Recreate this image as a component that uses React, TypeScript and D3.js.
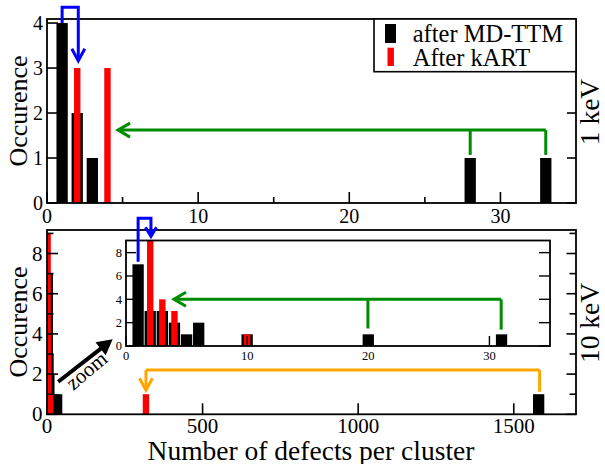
import React from 'react';
import * as d3 from 'd3';

const W = 605;
const H = 464;

// ---- 1 keV panel data ----
const md1X = [1, 2, 3, 28, 33];
const md1N = [4, 2, 1, 1, 1];
const kart1X = [2, 4];
const kart1N = [3, 3];

// ---- 10 keV panel data ----
const md10X = [1, 2, 3, 4, 5, 6, 10, 20, 31, 1580];
const md10N = [7, 3, 3, 2, 1, 2, 1, 1, 1, 1];
const kart10X = [2, 3, 4, 10, 318];
const kart10N = [9, 4, 3, 1, 1];

// ---- ticks ----
const topXTicks = [0, 10, 20, 30];
const topXMinor = [5, 15, 25];
const topYTicks = [0, 1, 2, 3, 4];
const botXTicks = [0, 500, 1000, 1500];
const botYTicks = [0, 2, 4, 6, 8];
const botYMinor = [1, 3, 5, 7, 9];
const insXTicks = [0, 10, 20, 30];
const insYTicks = [0, 2, 4, 6, 8];

const seriesNames = ['after MD-TTM', 'After kART'];
const seriesColors = ['#000000', '#ff0000'];

const FONT = '"Liberation Serif", "Times New Roman", serif';

const xTop = d3.scaleLinear().domain([0, 35]).range([47, 576]);
const yTop = d3.scaleLinear().domain([0, 4.09]).range([203, 19]);
const xBot = d3.scaleLinear().domain([0, 1700]).range([47, 576]);
const yBot = d3.scaleLinear().domain([0, 9.17]).range([414.3, 230]);
const xIns = d3.scaleLinear().domain([0, 35]).range([126, 550]);
const yIns = d3.scaleLinear().domain([0, 9.04]).range([346, 240.5]);

const BLACK_W = 11.3;
const RED_W = 6.4;

function Bars({ xs, ns, x, y, w, color, clip }: any) {
  return (
    <g clipPath={clip ? `url(#${clip})` : undefined}>
      {xs.map((v: number, i: number) => (
        <rect key={i} x={x(v) - w / 2} y={y(ns[i])} width={w} height={y(0) - y(ns[i])} fill={color} />
      ))}
    </g>
  );
}

function Chevron({ tx, ty, dir, color, len = 12, half = 6.5, sw = 3 }: any) {
  const bx = tx - len * Math.cos(dir);
  const by = ty - len * Math.sin(dir);
  const px = -Math.sin(dir) * half;
  const py = Math.cos(dir) * half;
  const d = `M${bx + px},${by + py}L${tx},${ty}L${bx - px},${by - py}`;
  return <path d={d} fill="none" stroke={color} strokeWidth={sw} strokeLinejoin="miter" />;
}

function Frame({ x, y }: any) {
  const [x0, x1] = x.range();
  const [y0, y1] = y.range();
  return <rect x={x0} y={y1} width={x1 - x0} height={y0 - y1} fill="none" stroke="#000" strokeWidth={1.8} />;
}

export default function App() {
  const line = d3.line<[number, number]>();

  const topBlue: [number, number][] = [[1, 4.0], [1, 4.35], [2.07, 4.35], [2.07, 3.16]];
  const topGreenY = 1.62;
  const topGreenFrom = 4.7;
  const topGreenDrops = [28.0, 33.0];
  const topGreenDropTo = 1.07;

  const insBlue: [number, number][] = [[1, 7.22], [1, 10.94], [2.06, 10.94], [2.06, 9.4]];
  const insGreenY = 4.0;
  const insGreenFrom = 3.96;
  const insGreenDrops = [19.97, 30.97];
  const insGreenDropTo = [1.5, 1.4];

  const orangeY = 2.2;
  const orangeFrom = 318;
  const orangeTo = 1583;
  const orangeLeftTo = 1.2;
  const orangeRightTo = 1.12;

  const zoomFrom: [number, number] = [36, 1.62];
  const zoomTo: [number, number] = [207, 3.68];

  const topBluePx = topBlue.map(([a, b]) => [xTop(a), yTop(b)] as [number, number]);
  const insBluePx = insBlue.map(([a, b]) => [xIns(a), yIns(b)] as [number, number]);

  const zx0 = xBot(zoomFrom[0]), zy0 = yBot(zoomFrom[1]);
  const zx1 = xBot(zoomTo[0]), zy1 = yBot(zoomTo[1]);
  const zAng = Math.atan2(zy1 - zy0, zx1 - zx0);
  const headLen = 13, headHalf = 7;
  const hbx = zx1 - headLen * Math.cos(zAng), hby = zy1 - headLen * Math.sin(zAng);
  const hpx = -Math.sin(zAng) * headHalf, hpy = Math.cos(zAng) * headHalf;

  const tickLabelTop = 20;
  const tickLabelBot = 21;
  const tickLabelIns = 12.5;

  return (
    <svg width={W} height={H} style={{ position: 'absolute', left: 0, top: 0, background: '#fff' }} fontFamily={FONT}>
      <defs>
        <clipPath id="clipTop"><rect x={47} y={19} width={529} height={184} /></clipPath>
        <clipPath id="clipBot"><rect x={47} y={230} width={529} height={184.3} /></clipPath>
        <clipPath id="clipIns"><rect x={126} y={240.5} width={424} height={105.5} /></clipPath>
      </defs>
      <rect x={0} y={0} width={W} height={H} fill="#fff" />

      {/* ===== TOP PANEL (1 keV) ===== */}
      <Bars xs={md1X} ns={md1N} x={xTop} y={yTop} w={BLACK_W} color={seriesColors[0]} clip="clipTop" />
      <Bars xs={kart1X} ns={kart1N} x={xTop} y={yTop} w={RED_W} color={seriesColors[1]} clip="clipTop" />
      <g stroke="#000" strokeWidth={1.6}>
        {topXTicks.map((t) => <line key={'a' + t} x1={xTop(t)} x2={xTop(t)} y1={203} y2={203 - 11} />)}
        {topXMinor.map((t) => <line key={'b' + t} x1={xTop(t)} x2={xTop(t)} y1={203} y2={203 - 6} />)}
        {topYTicks.map((t) => <line key={'c' + t} x1={47} x2={47 + 11} y1={yTop(t)} y2={yTop(t)} />)}
        {topYTicks.map((t) => <line key={'d' + t} x1={576} x2={576 - 9} y1={yTop(t)} y2={yTop(t)} />)}
      </g>
      <Frame x={xTop} y={yTop} />
      <g fontSize={tickLabelTop} fill="#000">
        {topXTicks.map((t) => <text key={'xl' + t} x={xTop(t)} y={223.3} textAnchor="middle">{t}</text>)}
        {topYTicks.map((t) => <text key={'yl' + t} x={43} y={yTop(t)} dy="0.34em" textAnchor="end">{t}</text>)}
      </g>

      {/* legend */}
      <g>
        <rect x={374} y={19} width={202} height={52.7} fill="#fff" stroke="#000" strokeWidth={1.6} />
        <rect x={385} y={24} width={11} height={19} fill={seriesColors[0]} />
        <rect x={387.5} y={47.7} width={6.4} height={18.3} fill={seriesColors[1]} />
        <text x={412.7} y={42} fontSize={24.5}>{seriesNames[0]}</text>
        <text x={412.7} y={66} fontSize={24.5}>{seriesNames[1]}</text>
      </g>

      {/* top annotations */}
      <path d={line(topBluePx) || ''} fill="none" stroke="#0000ff" strokeWidth={3} />
      <Chevron tx={topBluePx[3][0]} ty={topBluePx[3][1]} dir={Math.PI / 2} color="#0000ff" />
      <g stroke="#008b00" strokeWidth={3} fill="none">
        <line x1={xTop(topGreenFrom)} x2={xTop(topGreenDrops[1])} y1={yTop(topGreenY)} y2={yTop(topGreenY)} />
        {topGreenDrops.map((d) => (
          <line key={d} x1={xTop(d)} x2={xTop(d)} y1={yTop(topGreenY)} y2={yTop(topGreenDropTo)} />
        ))}
      </g>
      <Chevron tx={xTop(topGreenFrom)} ty={yTop(topGreenY)} dir={Math.PI} color="#008b00" half={7} />

      <text transform={`translate(27,111) rotate(-90)`} textAnchor="middle" fontSize={26}>Occurence</text>
      <text transform={`translate(598.5,112) rotate(-90)`} textAnchor="middle" fontSize={27.5}>1 keV</text>

      {/* ===== BOTTOM PANEL (10 keV) ===== */}
      <Bars xs={md10X} ns={md10N} x={xBot} y={yBot} w={BLACK_W} color={seriesColors[0]} clip="clipBot" />
      <Bars xs={kart10X} ns={kart10N} x={xBot} y={yBot} w={RED_W} color={seriesColors[1]} clip="clipBot" />
      <g stroke="#000" strokeWidth={1.6}>
        {botXTicks.map((t) => <line key={'a' + t} x1={xBot(t)} x2={xBot(t)} y1={414.3} y2={414.3 - 11} />)}
        {botYTicks.map((t) => <line key={'c' + t} x1={47} x2={47 + 11} y1={yBot(t)} y2={yBot(t)} />)}
        {botYMinor.map((t) => <line key={'e' + t} x1={47} x2={47 + 6.5} y1={yBot(t)} y2={yBot(t)} />)}
        {botYTicks.map((t) => <line key={'d' + t} x1={576} x2={576 - 9.5} y1={yBot(t)} y2={yBot(t)} />)}
        {botYMinor.map((t) => <line key={'f' + t} x1={576} x2={576 - 6.5} y1={yBot(t)} y2={yBot(t)} />)}
      </g>
      <Frame x={xBot} y={yBot} />
      <g fontSize={tickLabelBot} fill="#000">
        {botXTicks.map((t) => <text key={'xl' + t} x={xBot(t)} y={433} textAnchor="middle">{t}</text>)}
        {botYTicks.map((t) => <text key={'yl' + t} x={42.5} y={yBot(t)} dy="0.34em" textAnchor="end">{t}</text>)}
      </g>

      {/* orange bracket */}
      <g stroke="#ffa500" strokeWidth={3} fill="none">
        <line x1={xBot(orangeFrom)} x2={xBot(orangeTo)} y1={yBot(orangeY)} y2={yBot(orangeY)} />
        <line x1={xBot(orangeFrom)} x2={xBot(orangeFrom)} y1={yBot(orangeY)} y2={yBot(orangeLeftTo)} />
        <line x1={xBot(orangeTo)} x2={xBot(orangeTo)} y1={yBot(orangeY)} y2={yBot(orangeRightTo)} />
      </g>
      <Chevron tx={xBot(orangeFrom)} ty={yBot(orangeLeftTo)} dir={Math.PI / 2} color="#ffa500" />

      {/* zoom arrow */}
      <line x1={zx0} y1={zy0} x2={hbx} y2={hby} stroke="#000" strokeWidth={4} />
      <path d={`M${hbx + hpx},${hby + hpy}L${zx1},${zy1}L${hbx - hpx},${hby - hpy}Z`} fill="#000" stroke="#000" strokeWidth={1.5} strokeLinejoin="miter" />
      <text transform={`translate(91,376) rotate(-40)`} textAnchor="middle" fontSize={21}>zoom</text>

      {/* ===== INSET ===== */}
      <rect x={126} y={240.5} width={424} height={105.5} fill="#fff" />
      <Bars xs={md10X} ns={md10N} x={xIns} y={yIns} w={BLACK_W} color={seriesColors[0]} clip="clipIns" />
      <Bars xs={kart10X} ns={kart10N} x={xIns} y={yIns} w={RED_W} color={seriesColors[1]} clip="clipIns" />
      <g stroke="#000" strokeWidth={1.4}>
        {insXTicks.map((t) => <line key={'a' + t} x1={xIns(t)} x2={xIns(t)} y1={346} y2={346 - 10} />)}
        {insYTicks.map((t) => <line key={'c' + t} x1={126} x2={126 + 10} y1={yIns(t)} y2={yIns(t)} />)}
        {insYTicks.map((t) => <line key={'d' + t} x1={550} x2={550 - 11} y1={yIns(t)} y2={yIns(t)} />)}
      </g>
      <Frame x={xIns} y={yIns} />
      <g fontSize={tickLabelIns} fill="#000">
        {insXTicks.map((t) => <text key={'xl' + t} x={xIns(t)} y={360} textAnchor="middle">{t}</text>)}
        {insYTicks.map((t) => <text key={'yl' + t} x={122} y={yIns(t)} dy="0.34em" textAnchor="end">{t}</text>)}
      </g>
      <g stroke="#008b00" strokeWidth={3} fill="none">
        <line x1={xIns(insGreenFrom)} x2={xIns(insGreenDrops[1])} y1={yIns(insGreenY)} y2={yIns(insGreenY)} />
        {insGreenDrops.map((d, i) => (
          <line key={d} x1={xIns(d)} x2={xIns(d)} y1={yIns(insGreenY)} y2={yIns(insGreenDropTo[i])} />
        ))}
      </g>
      <Chevron tx={xIns(insGreenFrom)} ty={yIns(insGreenY)} dir={Math.PI} color="#008b00" half={7} />
      <path d={line(insBluePx) || ''} fill="none" stroke="#0000ff" strokeWidth={3} />
      <Chevron tx={insBluePx[3][0]} ty={insBluePx[3][1]} dir={Math.PI / 2} color="#0000ff" len={9} half={5.5} />

      <text transform={`translate(27,322) rotate(-90)`} textAnchor="middle" fontSize={26}>Occurence</text>
      <text transform={`translate(598.5,323) rotate(-90)`} textAnchor="middle" fontSize={27.5}>10 keV</text>
      <text x={311} y={459.5} textAnchor="middle" fontSize={27.5}>Number of defects per cluster</text>
    </svg>
  );
}
